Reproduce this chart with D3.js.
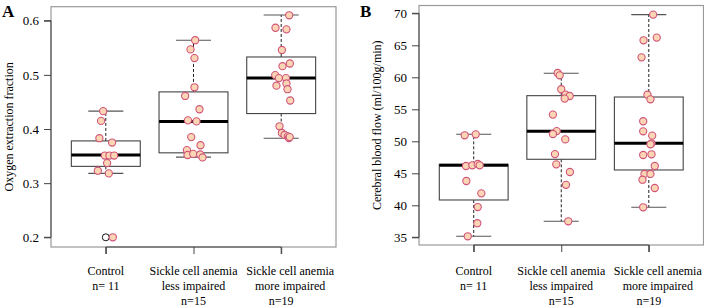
<!DOCTYPE html>
<html>
<head>
<meta charset="utf-8">
<script src="https://cdn.jsdelivr.net/npm/d3@7"></script>
<style>
  body { margin: 0; background: #fff; }
  svg { display: block; font-family: "Liberation Serif", serif; }
</style>
</head>
<body>
<div id="chart"></div>
<script>
// group labels (one line per array entry)
const groupLabels = [
    ["Control", "n= 11"],
    ["Sickle cell anemia", "less impaired", "n=15"],
    ["Sickle cell anemia", "more impaired", "n=19"]
];

// panel A : oxygen extraction fraction
const oefControl = [0.433, 0.415, 0.383, 0.375, 0.351, 0.351, 0.351, 0.337, 0.323, 0.318, 0.200];
const oefLess = [0.564, 0.547, 0.531, 0.477, 0.461, 0.4365, 0.416, 0.414, 0.385, 0.370, 0.361, 0.352, 0.354, 0.353, 0.3475];
const oefMore = [0.610, 0.587, 0.584, 0.546, 0.521, 0.516, 0.4995, 0.494, 0.494, 0.484, 0.480, 0.4735, 0.4526, 0.405, 0.3926, 0.389, 0.3865, 0.3834, 0.385];
// horizontal jitter, in group units
const oefControlJitter = [-0.03, -0.054, -0.073, 0.072, -0.011, 0.041, 0.095, 0.015, -0.091, 0.034, 0.08];
const oefLessJitter = [0.019, -0.034, 0.011, 0.011, -0.095, 0.068, -0.064, 0.034, -0.026, 0.08, -0.075, -0.068, -0.003, 0.076, 0.103];
const oefMoreJitter = [0.091, -0.065, 0.06, 0.008, 0.099, 0.015, -0.068, -0.026, 0.054, 0.06, -0.054, 0.072, 0.103, -0.019, 0.008, 0.038, 0.076, 0.088, 0.097];
// box stats: lower whisker, q1, median, q3, upper whisker
const oefStats = [
    [0.318, 0.331, 0.352, 0.378, 0.433],
    [0.348, 0.356, 0.414, 0.4685, 0.564],
    [0.383, 0.4285, 0.494, 0.533, 0.6106]
];
const oefOutliers = [[0.200], [], []];
const oefTicks = [0.2, 0.3, 0.4, 0.5, 0.6];

// panel B : cerebral blood flow
const cbfControl = [50.94, 51.09, 46.14, 46.25, 46.45, 46.25, 43.8, 41.87, 39.73, 37.2, 35.16];
const cbfLess = [60.67, 60.31, 58.13, 57.3, 57.08, 56.67, 54.17, 51.6, 51.14, 50.3, 48.0, 46.4, 45.2, 43.2, 37.5];
const cbfMore = [69.8, 66.2, 65.78, 63.12, 57.28, 56.56, 53.13, 51.56, 50.88, 49.69, 49.53, 47.86, 47.97, 46.14, 44.9, 44.9, 44.0, 42.7, 39.69];
const cbfControlJitter = [-0.103, 0.023, -0.088, -0.016, 0.046, 0.068, -0.084, 0.087, 0.046, 0.041, -0.068];
const cbfLessJitter = [-0.041, -0.018, 0, 0.05, 0.096, 0.039, -0.095, -0.052, -0.095, 0.046, -0.072, -0.057, 0.099, 0.054, 0.08];
const cbfMoreJitter = [0.05, 0.091, -0.06, -0.083, -0.015, 0.019, -0.064, -0.064, 0.039, 0.031, 0.019, -0.064, 0.031, 0.068, -0.049, 0.019, -0.072, 0.068, -0.064];
const cbfStats = [
    [35.16, 40.83, 46.25, 46.4, 51.09],
    [37.5, 47.19, 51.56, 57.13, 60.63],
    [39.69, 45.52, 49.69, 56.92, 69.8]
];
const cbfOutliers = [[], [], []];
const cbfTicks = [35, 40, 45, 50, 55, 60, 65, 70];

const FONT = "Liberation Serif";

const svg = d3.select("#chart").append("svg")
    .attr("width", 704)
    .attr("height", 308);

function drawPanel(p) {

    const x = d3.scaleLinear()
        .domain([0.375, 3.625])
        .range([p.left, p.right]);

    const y = d3.scaleLinear()
        .domain([p.yTicks[0], p.yTicks[p.yTicks.length - 1]])
        .range([p.yBottomTick, p.yTopTick]);

    const g = svg.append("g");

    // frame
    g.append("rect")
        .attr("x", p.left).attr("y", p.top)
        .attr("width", p.right - p.left).attr("height", p.bottom - p.top)
        .attr("fill", "none").attr("stroke", "#9a9a9a").attr("stroke-width", 1.2);

    // y axis
    const yAxis = g.append("g")
        .attr("transform", `translate(${p.left},0)`)
        .call(d3.axisLeft(y).tickValues(p.yTicks).tickSize(7).tickPadding(5).tickFormat(p.yFormat))
        .attr("font-family", FONT).attr("font-size", 13);
    yAxis.select(".domain").attr("stroke", "#444").attr("d", `M-7,${y(p.yTicks[0])}H0V${y(p.yTicks[p.yTicks.length - 1])}H-7`);
    yAxis.selectAll(".tick line").attr("stroke", "#444");
    yAxis.selectAll(".tick text").attr("fill", "#000");

    // x axis
    const xAxis = g.append("g")
        .attr("transform", `translate(0,${p.bottom})`)
        .call(d3.axisBottom(x).tickValues([1, 2, 3]).tickSize(7).tickFormat(""));
    xAxis.select(".domain").attr("stroke", "#444").attr("d", `M${x(1)},7V0H${x(3)}V7`);
    xAxis.selectAll(".tick line").attr("stroke", "#444");

    const boxHalf = 0.393, capHalf = 0.2;

    p.stats.forEach((s, i) => {
        const c = i + 1;
        // whiskers
        g.append("line")
            .attr("x1", x(c)).attr("x2", x(c)).attr("y1", y(s[3])).attr("y2", y(s[4]))
            .attr("stroke", "#222").attr("stroke-dasharray", "3,2");
        g.append("line")
            .attr("x1", x(c)).attr("x2", x(c)).attr("y1", y(s[1])).attr("y2", y(s[0]))
            .attr("stroke", "#222").attr("stroke-dasharray", "3,2");
        // caps
        [s[0], s[4]].forEach(v => {
            g.append("line")
                .attr("x1", x(c - capHalf)).attr("x2", x(c + capHalf))
                .attr("y1", y(v)).attr("y2", y(v))
                .attr("stroke", "#555").attr("stroke-width", 1.1);
        });
        // box
        g.append("rect")
            .attr("x", x(c - boxHalf)).attr("y", y(s[3]))
            .attr("width", x(c + boxHalf) - x(c - boxHalf))
            .attr("height", y(s[1]) - y(s[3]))
            .attr("fill", "#fff").attr("stroke", "#444").attr("stroke-width", 1.1);
        // median
        g.append("line")
            .attr("x1", x(c - boxHalf)).attr("x2", x(c + boxHalf))
            .attr("y1", y(s[2])).attr("y2", y(s[2]))
            .attr("stroke", "#000").attr("stroke-width", 3);
        // outliers
        p.outliers[i].forEach(v => {
            g.append("circle")
                .attr("cx", x(c)).attr("cy", y(v)).attr("r", 3.5)
                .attr("fill", "none").attr("stroke", "#111").attr("stroke-width", 1);
        });
    });

    // jittered points
    p.groups.forEach((vals, i) => {
        g.selectAll(null)
            .data(vals.map((v, k) => ({ v: v, j: p.jitter[i][k] })))
            .enter()
            .append("circle")
            .attr("cx", d => x(i + 1 + d.j))
            .attr("cy", d => y(d.v))
            .attr("r", 3.6)
            .attr("fill", "#fcd6b4")
            .attr("stroke", "#cf5479")
            .attr("stroke-width", 1.1);
    });

    // group labels; the last group's text lines sit a little right of its tick
    groupLabels.forEach((lines, i) => {
        const t = g.append("text")
            .attr("text-anchor", "middle")
            .attr("font-family", FONT)
            .attr("font-size", 12)
            .attr("fill", "#000");
        lines.forEach((line, k) => {
            const shift = (i === 2 && k < lines.length - 1) ? 9 : 0;
            t.append("tspan")
                .attr("x", x(i + 1) + shift)
                .attr("y", 275 + k * 15)
                .text(line);
        });
    });

    // y title
    g.append("text")
        .attr("transform", `translate(${p.titleX},${(p.top + p.bottom) / 2}) rotate(-90)`)
        .attr("text-anchor", "middle")
        .attr("font-family", FONT)
        .attr("font-size", 12)
        .text(p.yTitle);

    // panel letter
    g.append("text")
        .attr("x", p.letterX).attr("y", 17)
        .attr("font-family", FONT)
        .attr("font-size", 17).attr("font-weight", "bold")
        .text(p.letter);
}

drawPanel({
    left: 51, right: 336, top: 6.7, bottom: 247,
    yTopTick: 20.7, yBottomTick: 237.3,
    yTicks: oefTicks, yFormat: d3.format(".1f"),
    stats: oefStats, outliers: oefOutliers,
    groups: [oefControl, oefLess, oefMore],
    jitter: [oefControlJitter, oefLessJitter, oefMoreJitter],
    yTitle: "Oxygen extraction fraction", titleX: 13,
    letter: "A", letterX: 2
});

drawPanel({
    left: 419, right: 703.5, top: 5.5, bottom: 245,
    yTopTick: 13.3, yBottomTick: 237.3,
    yTicks: cbfTicks, yFormat: d3.format("d"),
    stats: cbfStats, outliers: cbfOutliers,
    groups: [cbfControl, cbfLess, cbfMore],
    jitter: [cbfControlJitter, cbfLessJitter, cbfMoreJitter],
    yTitle: "Cerebral blood flow (ml/100g/min)", titleX: 381,
    letter: "B", letterX: 360
});
</script>
</body>
</html>
